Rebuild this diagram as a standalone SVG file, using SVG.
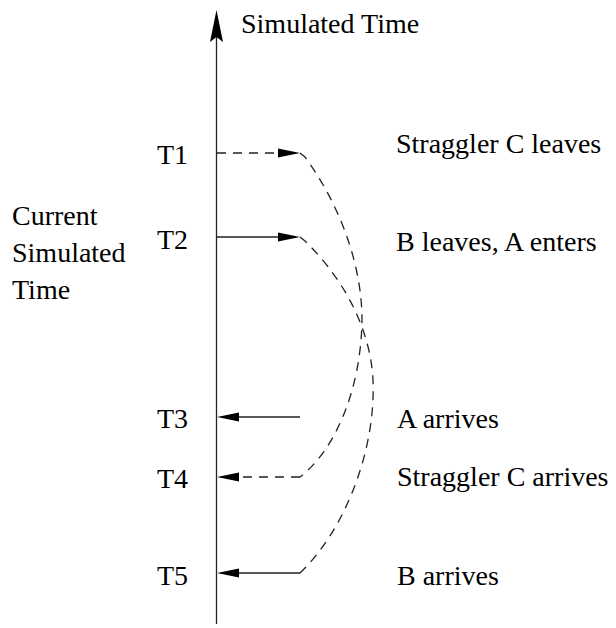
<svg xmlns="http://www.w3.org/2000/svg" width="616" height="628" viewBox="0 0 616 628">
<style>
.ln{stroke:#222;stroke-width:1.3;fill:none}
.d{stroke-dasharray:9,7}
.ah{fill:#000}
</style>
<rect width="616" height="628" fill="#fff"/>
<g font-family="Liberation Serif, Times New Roman, DejaVu Serif, serif" font-size="28" fill="#000">
<g id="axis">
<line class="ln" x1="216.5" y1="30" x2="216.5" y2="624"/>
<polygon class="ah" points="216.5,10 223,42 216.5,37 210,42"/>
<text x="241" y="33">Simulated Time</text>
</g>
<g id="current"><text x="12" y="225">Current</text><text x="12" y="262">Simulated</text><text x="12" y="299">Time</text></g>
<g id="t1"><text x="157" y="164">T1</text><text x="396" y="153">Straggler C leaves</text></g>
<g id="t2"><text x="157" y="249">T2</text><text x="396" y="251">B leaves, A enters</text></g>
<g id="t3"><text x="157" y="428">T3</text><text x="397" y="428">A arrives</text></g>
<g id="t4"><text x="157" y="488">T4</text><text x="397" y="486">Straggler C arrives</text></g>
<g id="t5"><text x="157" y="585">T5</text><text x="397" y="585">B arrives</text></g>
</g>
<g id="connectors">
<line class="ln d" x1="217" y1="153" x2="280" y2="153"/>
<polygon class="ah" points="300,153 278,148.5 278,157.5"/>
<line class="ln" x1="217" y1="237" x2="280" y2="237"/>
<polygon class="ah" points="300,237 278,232.5 278,241.5"/>
<line class="ln" x1="300" y1="417" x2="236" y2="417"/>
<polygon class="ah" points="217,417 239,412.5 239,421.5"/>
<line class="ln d" x1="300" y1="477" x2="236" y2="477"/>
<polygon class="ah" points="217,477 239,472.5 239,481.5"/>
<line class="ln" x1="300" y1="573" x2="236" y2="573"/>
<polygon class="ah" points="217,573 239,568.5 239,577.5"/>
<path class="ln d" d="M300,153 L305,157 C340,205 362,265 362,320 C361,390 335,450 300,477"/>
<path class="ln d" d="M300,237 L305,241 C335,270 370,320 373,380 C376,450 345,530 300,573"/>
</g>
</svg>
